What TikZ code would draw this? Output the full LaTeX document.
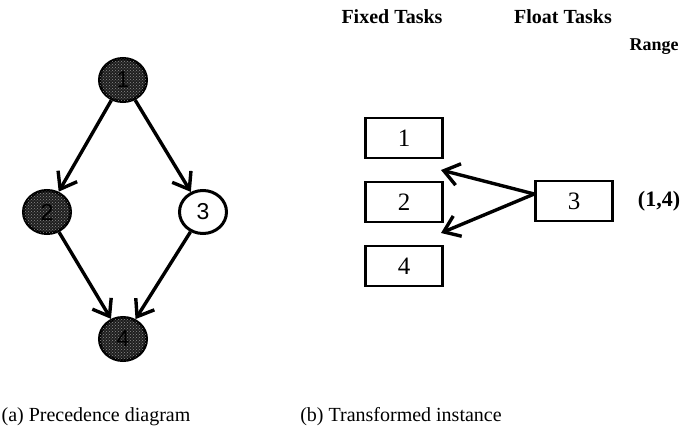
\documentclass[tikz,border=0pt]{standalone}
\usepackage{fontspec}
\setmainfont{Liberation Serif}
\newfontfamily\circfont{Liberation Sans}
\usetikzlibrary{arrows.meta,shapes.geometric,patterns}
\tikzset{
  task/.style={ellipse,draw=black,line width=3pt,minimum width=47pt,minimum height=43pt,inner sep=0pt,font=\circfont\fontsize{23}{23}\selectfont},
  fixedtask/.style={task,fill=black!88,postaction={pattern=crosshatch dots,pattern color=black!45}},
  freetask/.style={task,fill=white},
  taskbox/.style={rectangle,draw=black,line width=2.6pt,minimum width=77pt,minimum height=40pt,inner sep=0pt,font=\fontsize{25}{25}\selectfont},
  prec/.style={line width=3.4pt,-{Straight Barb[length=15pt,width=22pt,line width=3.4pt]}},
  head/.style={font=\bfseries\fontsize{20}{20}\selectfont},
  caption/.style={font=\fontsize{20}{20}\selectfont}
}
\begin{document}
\begin{tikzpicture}[x=1pt,y=-1pt]
  \useasboundingbox (0,0) rectangle (682,444);
  % (a) precedence graph
  \node[fixedtask] (n1) at (123,80) {1};
  \node[fixedtask] (n2) at (47,212) {2};
  \node[freetask]  (n3) at (203,212) {3};
  \node[fixedtask] (n4) at (123,339) {4};
  \draw[prec] (n1) -- (n2);
  \draw[prec] (n1) -- (n3);
  \draw[prec] (n2) -- (n4);
  \draw[prec] (n3) -- (n4);
  % (b) transformed instance
  \node[head] (hfix) at (392,17) {Fixed Tasks};
  \node[head] (hflo) at (563,17) {Float Tasks};
  \node[head,font=\bfseries\fontsize{18}{18}\selectfont] (hrng) at (654,47) {Range};
  \node[taskbox] (b1) at (404,138) {1};
  \node[taskbox] (b2) at (404,202) {2};
  \node[taskbox] (b4) at (404,266) {4};
  \node[taskbox] (b3) at (574,201) {3};
  \node[head,font=\bfseries\fontsize{22}{22}\selectfont] (rng) at (659,201) {(1,4)};
  \coordinate (t1) at (441,170);
  \coordinate (t2) at (441,233);
  \draw[prec] ([yshift=7pt]b3.west) -- (t1);
  \draw[prec] ([yshift=7pt]b3.west) -- (t2);
  % captions
  \node[caption] (ca) at (96,417) {(a) Precedence diagram};
  \node[caption] (cb) at (401,417) {(b) Transformed instance};
\end{tikzpicture}
\end{document}
